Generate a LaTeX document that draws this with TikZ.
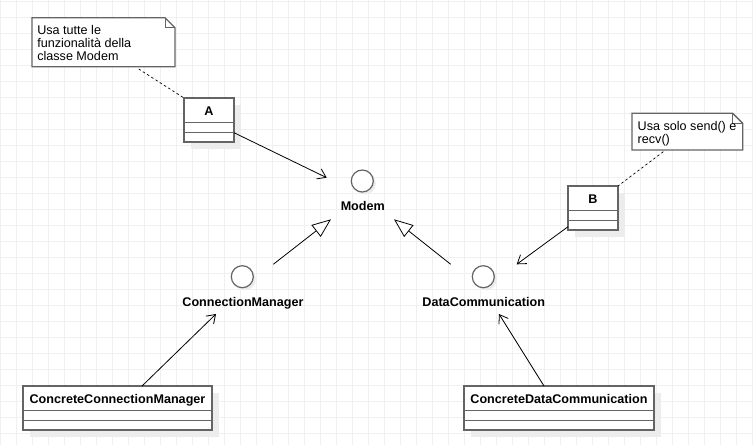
\documentclass[tikz,border=0pt]{standalone}
\usepackage{fontspec}
\setmainfont{Liberation Sans}
\usetikzlibrary{arrows.meta,shadows}
\definecolor{gridc}{RGB}{240,240,240}
\definecolor{edgec}{RGB}{100,100,100}
\definecolor{shadc}{RGB}{236,236,236}
\tikzset{
  txt/.style={font=\fontsize{12.6}{12.8}\selectfont, inner sep=0pt, outer sep=0pt},
  classbox/.style={draw=edgec, line width=1.4pt, fill=white, inner sep=0pt, outer sep=0pt,
    anchor=north west, minimum height=44pt,
    drop shadow={shadow xshift=7pt, shadow yshift=-7pt, fill=shadc, opacity=1}},
  compline/.style={draw=edgec, line width=1.4pt},
  classname/.style={font=\bfseries\fontsize{12.6}{12.8}\selectfont, inner sep=0pt, outer sep=0pt, anchor=base},
  iface/.style={circle, draw=edgec, line width=1.2pt, fill=white, minimum size=22pt, inner sep=0pt,
    drop shadow={shadow xshift=2.5pt, shadow yshift=-2.5pt, fill=shadc, opacity=1}},
  notearea/.style={draw=none, inner sep=0pt, outer sep=0pt, anchor=north west},
  noteline/.style={draw=edgec, line width=1.3pt, fill=white, line join=miter},
  foldline/.style={draw=edgec, line width=0.8pt},
  notetext/.style={txt, align=left, anchor=north west},
  assoc/.style={draw=black, line width=0.8pt, -{Straight Barb[length=8pt,width=11pt]}},
  realize/.style={draw=black, line width=0.8pt, -{Triangle[open, length=19pt, width=15pt, fill=white]}},
  anchorline/.style={draw=black, line width=0.7pt, dash pattern=on 2.5pt off 2.5pt},
}
\newcommand\umlclassbox[5]{% name, x, y, width, label
  \node[classbox, minimum width=#4pt] (#1) at (#2,#3) {};
  \draw[compline] ([yshift=-24.7pt]#1.north west) -- ([yshift=-24.7pt]#1.north east);
  \draw[compline] ([yshift=-34.7pt]#1.north west) -- ([yshift=-34.7pt]#1.north east);
  \node[classname] (#1-name) at ([yshift=-17pt]#1.north) {#5};
}
\newcommand\umlnotebox[1]{% name
  \draw[noteline] (#1.north west) -- ([xshift=-10pt]#1.north east) -- ([yshift=-10pt]#1.north east)
    -- (#1.south east) -- (#1.south west) -- cycle;
  \draw[foldline] ([xshift=-10pt]#1.north east) |- ([yshift=-10pt]#1.north east);
}
\begin{document}
\begin{tikzpicture}[x=1pt,y=-1pt]
\useasboundingbox (0,0) rectangle (753,445);
\fill[white] (0,0) rectangle (753,445);
% grid
\foreach \gx in {0,16,...,752} \draw[gridc, line width=0.8pt] (\gx,0) -- (\gx,445);
\foreach \gy in {1.5,17.5,...,445} \draw[gridc, line width=0.8pt] (0,\gy) -- (753,\gy);

% notes
\node[notearea, minimum width=143pt, minimum height=49pt] (noteA) at (32,17.7) {};
\umlnotebox{noteA}
\node[notetext] (noteAtext) at (37.3,25.6) {Usa tutte le\\funzionalità della\\classe Modem};

\node[notearea, minimum width=110.7pt, minimum height=36.7pt] (noteB) at (632,113.3) {};
\umlnotebox{noteB}
\node[notetext] (noteBtext) at (637.7,121.6) {Usa solo send() e\\recv()};

% classes
\umlclassbox{A}{184}{98}{50}{A}
\umlclassbox{B}{568}{186}{50}{B}
\umlclassbox{CCM}{23}{386}{189}{ConcreteConnectionManager}
\umlclassbox{CDC}{464}{386}{190}{ConcreteDataCommunication}

% interfaces
\node[iface] (modem) at (362.3,181) {};
\node[classname] (modemlbl) at (362.8,210) {Modem};
\node[iface] (connmgr) at (242.3,276.7) {};
\node[classname] (connmgrlbl) at (243,306) {ConnectionManager};
\node[iface] (datacomm) at (483.3,276.7) {};
\node[classname] (datacommlbl) at (483.7,306) {DataCommunication};

% free connector ends
\coordinate (aEnd) at (326.7,177.7);
\coordinate (bEnd) at (516.7,264.3);
\coordinate (noteAfoot) at (138.7,69);
\coordinate (noteBfoot) at (663.3,151.7);
\coordinate (genLstart) at (273.3,264.3);
\coordinate (genLtip) at (331,219.3);
\coordinate (genRstart) at (450.7,264.3);
\coordinate (genRtip) at (394,219.3);
\coordinate (ccmEnd) at (216,314);
\coordinate (cdcEnd) at (499,314);

% connectors
\draw[anchorline] (noteAfoot) -- (A.north west);
\draw[anchorline] (noteBfoot) -- (B.north east);
\draw[assoc] ([yshift=-34.7pt]A.north east) -- (aEnd);
\draw[assoc] ([yshift=-40.7pt]B.north west) -- (bEnd);
\draw[realize] (genLstart) -- (genLtip);
\draw[realize] (genRstart) -- (genRtip);
\draw[assoc] ([xshift=119pt]CCM.north west) -- (ccmEnd);
\draw[assoc] ([xshift=80pt]CDC.north west) -- (cdcEnd);
\end{tikzpicture}
\end{document}
